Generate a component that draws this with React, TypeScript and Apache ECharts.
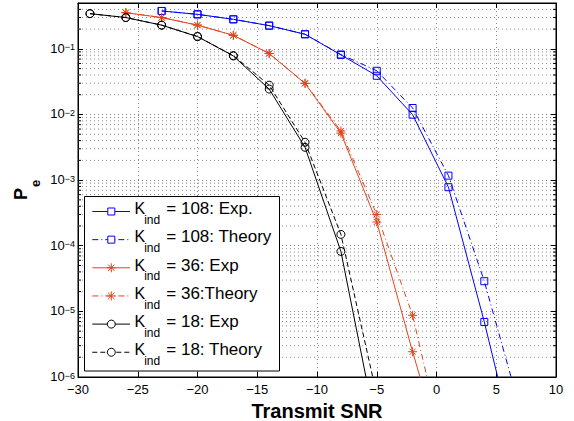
import React, { useEffect, useRef } from 'react';
import * as echarts from 'echarts';

// ---- data ----
const xBlue = [-23, -20, -17, -14, -11, -8, -5, -2, 1, 4, 7];
const blueExp = [0.378, 0.336, 0.282, 0.226, 0.167, 0.081, 0.0389, 0.00993, 0.00078, 6.9e-6, 3.9e-8];
const blueTheory = [0.378, 0.336, 0.282, 0.226, 0.167, 0.082, 0.0464, 0.01256, 0.00117, 2.88e-5, 3.2e-7];

const xRed = [-26, -23, -20, -17, -14, -11, -8, -5, -2, 1];
const redExp = [0.356, 0.30, 0.23, 0.161, 0.085, 0.0297, 0.0052, 0.00023, 2.43e-6, 3.3e-8];
const redTheory = [0.356, 0.30, 0.23, 0.161, 0.085, 0.0300, 0.0056, 0.00030, 8.7e-6, 3.9e-8];

const xBlack = [-29, -26, -23, -20, -17, -14, -11, -8, -5];
const blackExp = [0.344, 0.30, 0.23, 0.154, 0.078, 0.0244, 0.00316, 8.2e-5, 1.5e-7];
const blackTheory = [0.344, 0.30, 0.23, 0.154, 0.079, 0.028, 0.00377, 1.49e-4, 5.3e-7];

const legendLabels = ['= 108: Exp.', '= 108: Theory', '= 36: Exp', '= 36:Theory', '= 18: Exp', '= 18: Theory'];

const X_MIN = -30;
const X_MAX = 10;
const Y_MIN = 1e-6;
const Y_MAX = 0.5;
const decades = [1e-6, 1e-5, 1e-4, 1e-3, 1e-2, 1e-1];
const minorMultipliers = [2, 3, 4, 5, 6, 7, 8, 9];

const BLUE = '#0000ff';
const RED = '#e5431c';
const BLACK = '#000000';
const GRID = '#8a8a8a';
const FONT = 'Liberation Sans, Arial, sans-serif';
const STAR = 'path://M5,0 L5,10 M0,5 L10,5 M1.6,1.6 L8.4,8.4 M1.6,8.4 L8.4,1.6';

const minorValues: number[] = [];
decades.forEach((d) => {
  minorMultipliers.forEach((m) => {
    const v = d * m;
    if (v < Y_MAX - 1e-12) minorValues.push(v);
  });
});

function pairs(xs: number[], ys: number[]) {
  return xs.map((x, i) => [x, ys[i]]);
}

function lineSeries(xs: number[], ys: number[], color: string, dash: any, symbol: string, size: number) {
  return {
    type: 'line',
    data: pairs(xs, ys),
    symbol,
    symbolSize: size,
    showAllSymbol: true,
    silent: true,
    z: 3,
    itemStyle: { color: 'none', borderColor: color, borderWidth: 1 },
    lineStyle: { color, width: 1, type: dash },
    emphasis: { disabled: true },
  };
}

function legendGraphics() {
  const els: any[] = [];
  els.push({
    type: 'rect',
    z: 100,
    shape: { x: 84.5, y: 196.5, width: 195, height: 174.5 },
    style: { fill: '#ffffff', stroke: '#000', lineWidth: 1 },
  });
  const specs = [
    { color: BLUE, dash: null, marker: 'rect' },
    { color: BLUE, dash: [6, 3, 1, 3], marker: 'rect' },
    { color: RED, dash: null, marker: 'star' },
    { color: RED, dash: [6, 3, 1, 3], marker: 'star' },
    { color: BLACK, dash: null, marker: 'circle' },
    { color: BLACK, dash: [5, 3], marker: 'circle' },
  ];
  specs.forEach((s, i) => {
    const kc = 208.8 + i * 28.15;
    const ly = kc + 2.7;
    const mx = 111.3;
    els.push({
      type: 'line', z: 101,
      shape: { x1: 92.3, y1: ly, x2: 130, y2: ly },
      style: { stroke: s.color, lineWidth: 1, lineDash: s.dash || undefined },
    });
    if (s.marker === 'rect') {
      els.push({ type: 'rect', z: 102, shape: { x: mx - 3.5, y: ly - 3.5, width: 7, height: 7 }, style: { fill: '#fff', stroke: s.color, lineWidth: 1 } });
    } else if (s.marker === 'circle') {
      els.push({ type: 'circle', z: 102, shape: { cx: mx, cy: ly, r: 4 }, style: { fill: '#fff', stroke: s.color, lineWidth: 1 } });
    } else {
      const r = 4.5;
      const d = 3.2;
      const segs = [
        [mx - r, ly, mx + r, ly],
        [mx, ly - r, mx, ly + r],
        [mx - d, ly - d, mx + d, ly + d],
        [mx - d, ly + d, mx + d, ly - d],
      ];
      segs.forEach((sg) => {
        els.push({ type: 'line', z: 102, shape: { x1: sg[0], y1: sg[1], x2: sg[2], y2: sg[3] }, style: { stroke: s.color, lineWidth: 1 } });
      });
    }
    els.push({ type: 'text', z: 103, x: 134.5, y: kc, style: { text: 'K', font: `16px ${FONT}`, fill: '#000', align: 'left', verticalAlign: 'middle' } });
    els.push({ type: 'text', z: 103, x: 144.2, y: kc + 11.3, style: { text: 'ind', font: `12px ${FONT}`, fill: '#000', align: 'left', verticalAlign: 'middle' } });
    els.push({ type: 'text', z: 103, x: 166.3, y: kc, style: { text: legendLabels[i], font: `17px ${FONT}`, fill: '#000', align: 'left', verticalAlign: 'middle' } });
  });
  // y axis title P_e
  els.push({ type: 'text', z: 50, x: 21, y: 194, rotation: Math.PI / 2, style: { text: 'P', font: `bold 18px ${FONT}`, fill: '#000', align: 'center', verticalAlign: 'middle' } });
  els.push({ type: 'text', z: 50, x: 35, y: 183.5, rotation: Math.PI / 2, style: { text: 'e', font: `bold 13px ${FONT}`, fill: '#000', align: 'center', verticalAlign: 'middle' } });
  return els;
}

function yLabel(v: number) {
  const e = Math.round(Math.log10(v));
  if (Math.abs(v / Math.pow(10, e) - 1) > 1e-6) return '';
  return `{b|10}{s|${e < 0 ? '\u2212' : ''}${Math.abs(e)}}`;
}

export default function App() {
  const ref = useRef<HTMLDivElement>(null);
  useEffect(() => {
    if (!ref.current) return;
    const chart = echarts.init(ref.current, undefined, { renderer: 'svg' });
    const axisCommon = {
      axisLine: { show: true, onZero: false, lineStyle: { color: '#000', width: 1 } },
      axisTick: { show: true, inside: true, length: 5, lineStyle: { color: '#000', width: 1 } },
    };
    chart.setOption({
      animation: false,
      backgroundColor: '#ffffff',
      grid: {
        left: 78, right: 18, top: 3, bottom: 44, show: true, borderColor: '#000', borderWidth: 1,
        backgroundColor: '#fff', containLabel: false, outerBoundsMode: 'none',
      },
      xAxis: [
        {
          type: 'value', min: X_MIN, max: X_MAX, interval: 5, position: 'bottom',
          ...axisCommon,
          axisLabel: {
            fontSize: 13, fontFamily: FONT, color: '#000', margin: 6,
            formatter: (v: number) => (v < 0 ? '\u2212' + Math.abs(v) : String(v)),
          },
          splitLine: { show: true, lineStyle: { color: GRID, width: 1, type: [1, 3] } },
          name: 'Transmit SNR', nameLocation: 'middle', nameGap: 18,
          nameTextStyle: { fontSize: 20, fontWeight: 'bold', fontFamily: FONT, color: '#000' },
        },
        {
          type: 'value', min: X_MIN, max: X_MAX, interval: 5, position: 'top',
          ...axisCommon,
          axisLabel: { show: false },
          splitLine: { show: false },
        },
      ],
      yAxis: [
        {
          type: 'log', min: Y_MIN, max: Y_MAX, logBase: 10, position: 'left',
          ...axisCommon,
          axisLabel: {
            margin: 3, color: '#000', fontFamily: FONT,
            formatter: yLabel,
            rich: {
              b: { fontSize: 13, lineHeight: 12, verticalAlign: 'bottom', fontFamily: FONT, color: '#000' },
              s: { fontSize: 9, lineHeight: 9, verticalAlign: 'top', fontFamily: FONT, color: '#000' },
            },
          },
          splitLine: { show: true, lineStyle: { color: GRID, width: 1, type: [1, 3] } },
        },
        {
          type: 'log', min: Y_MIN, max: Y_MAX, logBase: 10, position: 'right',
          ...axisCommon,
          axisLabel: { show: false },
          splitLine: { show: false },
        },
      ],
      series: [
        {
          type: 'custom',
          silent: true,
          z: 1,
          data: minorValues.map((v) => [X_MIN, v]),
          renderItem: (params: any, api: any) => {
            const v = api.value(1);
            const p0 = api.coord([X_MIN, v]);
            const p1 = api.coord([X_MAX, v]);
            return {
              type: 'group',
              children: [
                { type: 'line', shape: { x1: p0[0], y1: p0[1], x2: p1[0], y2: p1[1] }, style: { stroke: GRID, lineWidth: 1, lineDash: [1, 3] } },
                { type: 'line', shape: { x1: p0[0], y1: p0[1], x2: p0[0] + 3, y2: p0[1] }, style: { stroke: '#000', lineWidth: 1 } },
                { type: 'line', shape: { x1: p1[0] - 3, y1: p1[1], x2: p1[0], y2: p1[1] }, style: { stroke: '#000', lineWidth: 1 } },
              ],
            };
          },
        },
        lineSeries(xBlue, blueExp, BLUE, 'solid', 'rect', 7),
        lineSeries(xBlue, blueTheory, BLUE, [6, 3, 1, 3], 'rect', 7),
        lineSeries(xRed, redExp, RED, 'solid', STAR, 9),
        lineSeries(xRed, redTheory, RED, [6, 3, 1, 3], STAR, 9),
        lineSeries(xBlack, blackExp, BLACK, 'solid', 'circle', 8),
        lineSeries(xBlack, blackTheory, BLACK, [5, 3], 'circle', 8),
      ],
      graphic: legendGraphics(),
    });
    return () => chart.dispose();
  }, []);
  return <div ref={ref} style={{ position: 'absolute', left: 0, top: 0, width: 574, height: 421 }} />;
}
